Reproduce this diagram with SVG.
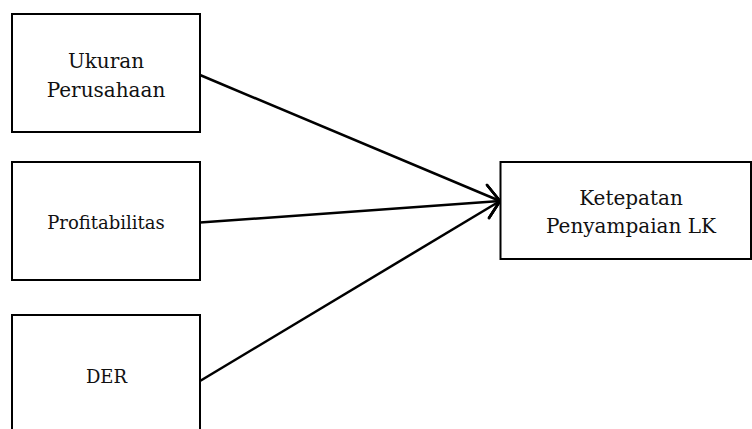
<svg xmlns="http://www.w3.org/2000/svg" width="752" height="429" viewBox="0 0 752 429">
<style>
.box{fill:#fff;stroke:#000;stroke-width:2}
.t{font-family:"DejaVu Serif","Liberation Serif",serif;font-size:20px;fill:#111;text-anchor:middle}
.s{font-size:18px}
.edge{stroke:#000;stroke-width:2.5;fill:none}
</style>
<defs>
<marker id="arr" markerUnits="userSpaceOnUse" viewBox="-20 -25 30 50" refX="0" refY="0" markerWidth="30" markerHeight="50" orient="0">
<path d="M-13,-16 L0,0 L-11,17" fill="none" stroke="#000" stroke-width="2.5" stroke-linecap="round"/>
</marker>
</defs>
<rect width="752" height="429" fill="#fff"/>
<g id="connectors">
<line class="edge" x1="200" y1="75" x2="500" y2="201" marker-end="url(#arr)"/>
<line class="edge" x1="200" y1="222.5" x2="500" y2="201" marker-end="url(#arr)"/>
<line class="edge" x1="200" y1="381" x2="500" y2="201" marker-end="url(#arr)"/>
</g>
<g id="ukuran">
<rect class="box" x="12" y="14" width="188" height="118"/>
<text class="t" x="106" y="68.3">Ukuran</text>
<text class="t" x="106" y="96.7">Perusahaan</text>
</g>
<g id="profitabilitas">
<rect class="box" x="12" y="162" width="188" height="118"/>
<text class="t s" x="106" y="229.3">Profitabilitas</text>
</g>
<g id="der">
<rect class="box" x="12" y="315" width="188" height="130"/>
<text class="t s" x="106.5" y="383.3">DER</text>
</g>
<g id="ketepatan">
<rect class="box" x="500.5" y="162" width="250.5" height="97"/>
<text class="t" x="631" y="205">Ketepatan</text>
<text class="t" x="631" y="232.7">Penyampaian LK</text>
</g>
</svg>
